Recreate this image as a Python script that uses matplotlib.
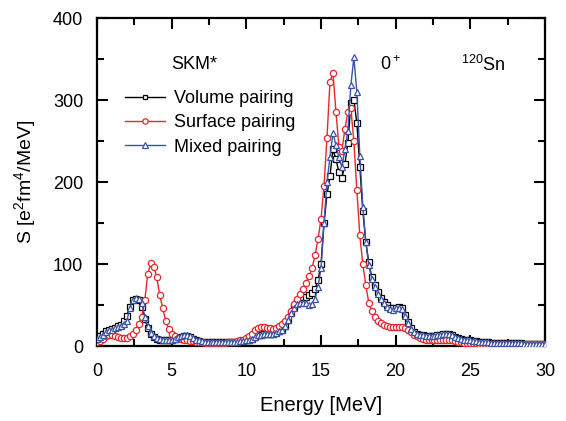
import numpy as np
import matplotlib
matplotlib.use("Agg")
import matplotlib.pyplot as plt

plt.rcParams['font.family'] = ['Liberation Sans', 'DejaVu Sans']
plt.rcParams['mathtext.fontset'] = 'custom'
plt.rcParams['mathtext.rm'] = 'Liberation Sans'

# Energy grid (MeV), 0.2 MeV step
energy = np.round(np.linspace(0, 30, 151), 1)

surface = [5, 6, 9, 12, 14, 14, 12, 11, 10, 10,
           10, 12, 15, 20, 27, 36, 56, 88, 101, 97,
           84, 62, 46, 31, 21, 15, 12, 10, 9, 8,
           7, 6, 6, 5, 5, 5, 4, 4, 4, 4,
           4, 4, 4, 4, 5, 5, 5, 6, 7, 8,
           10, 12, 15, 19, 22, 23, 23, 22, 22, 21,
           22, 24, 27, 30, 36, 43, 51, 57, 63, 70,
           77, 85, 95, 111, 130, 155, 195, 254, 322, 333,
           286, 243, 238, 265, 285, 290, 250, 190, 135, 100,
           74, 53, 43, 36, 31, 28, 26, 24, 23, 23,
           23, 23, 23, 22, 20, 17, 14, 12, 10, 9,
           8, 7, 7, 7, 7, 7, 8, 8, 8, 7,
           6, 5, 5, 4, 4, 4, 4, 4, 3, 3,
           3, 3, 3, 3, 3, 3, 3, 3, 3, 3,
           3, 3, 3, 3, 3, 3, 3, 3, 3, 3,
           3]

mixed = [9, 11, 14, 17, 19, 20, 22, 23, 24, 27,
         31, 47, 56, 59, 58, 53, 36, 24, 16, 12,
         10, 9, 8, 7, 7, 8, 9, 11, 12, 13,
         13, 12, 10, 8, 7, 6, 5, 5, 5, 5,
         5, 5, 5, 5, 5, 5, 5, 5, 6, 6,
         7, 8, 9, 11, 13, 14, 15, 15, 15, 15,
         16, 18, 20, 25, 32, 40, 47, 51, 53, 53,
         52, 50, 51, 58, 72, 95, 150, 200, 230, 260,
         245, 230, 218, 240, 262, 318, 352, 310, 232, 170,
         127, 99, 82, 72, 64, 58, 53, 48, 45, 44,
         46, 47, 45, 37, 28, 21, 17, 15, 14, 13,
         12, 12, 12, 12, 13, 14, 15, 15, 15, 13,
         11, 10, 9, 8, 8, 7, 6, 6, 5, 5,
         5, 5, 4, 4, 4, 4, 4, 4, 4, 4,
         4, 4, 4, 3, 3, 3, 3, 3, 3, 3,
         3]

volume = [9, 12, 15, 18, 20, 21, 22, 24, 26, 30,
          37, 48, 56, 58, 56, 48, 33, 22, 15, 11,
          9, 8, 7, 7, 7, 8, 9, 10, 11, 12,
          12, 11, 9, 8, 6, 5, 5, 5, 5, 5,
          5, 5, 5, 5, 5, 5, 5, 5, 6, 6,
          7, 8, 9, 11, 13, 14, 15, 15, 15, 15,
          16, 18, 20, 25, 32, 40, 48, 54, 58, 60,
          60, 62, 65, 70, 80, 100, 150, 185, 207, 240,
          228, 212, 205, 222, 248, 296, 300, 272, 218, 165,
          127, 102, 84, 74, 66, 59, 54, 50, 47, 46,
          47, 48, 46, 38, 29, 22, 17, 15, 14, 13,
          12, 12, 12, 12, 13, 14, 15, 15, 15, 13,
          11, 10, 9, 8, 8, 7, 6, 6, 5, 5,
          5, 5, 4, 4, 4, 4, 4, 4, 4, 4,
          4, 4, 4, 3, 3, 3, 3, 3, 3, 3,
          3]

labels = ['Volume pairing', 'Surface pairing', 'Mixed pairing']

red = '#e8262b'
blue = '#3a53a4'

fig = plt.figure(figsize=(5.66, 4.21), dpi=100)
ax = fig.add_axes([0.1714, 0.178, 0.7915, 0.779])

ax.plot(energy, volume, '-s', color='black', lw=1.0, ms=4, mfc='white', mew=0.9, label=labels[0], zorder=3)
ax.plot(energy, surface, '-o', color=red, lw=1.0, ms=4.5, mfc='white', mew=0.9, label=labels[1], zorder=4)
ax.plot(energy, mixed, '-^', color=blue, lw=1.0, ms=4.5, mfc='white', mew=0.9, label=labels[2], zorder=5)

ax.set_xlim(0, 30)
ax.set_ylim(0, 400)
ax.set_xticks([0, 5, 10, 15, 20, 25, 30])
ax.set_xticks([2.5, 7.5, 12.5, 17.5, 22.5, 27.5], minor=True)
ax.set_yticks([0, 100, 200, 300, 400])
ax.set_yticks([50, 150, 250, 350], minor=True)
ax.tick_params(which='both', direction='in', top=True, right=True, width=1.5, labelsize=13)
ax.tick_params(which='major', length=8)
ax.tick_params(which='minor', length=5)
ax.tick_params(axis='x', which='major', pad=12)
ax.tick_params(axis='y', which='major', pad=10)
for s in ax.spines.values():
    s.set_linewidth(1.6)

ax.set_xlabel('Energy [MeV]', fontsize=14.5, labelpad=12)
ax.set_ylabel('S [e$\\mathregular{^2}$fm$\\mathregular{^4}$/MeV]', fontsize=14, labelpad=11)

ax.text(5.0, 343, 'SKM*', fontsize=13, va='center', ha='left')
ax.text(18.95, 343, '0$\\mathregular{^+}$', fontsize=13, va='center', ha='left')
ax.text(24.4, 343, '$\\mathregular{^{120}}$Sn', fontsize=13, va='center', ha='left')

ax.legend(loc='upper left', bbox_to_anchor=(0.062, 0.78), frameon=False, fontsize=13,
          borderpad=0, borderaxespad=0, handlelength=2.2, handletextpad=0.5,
          labelspacing=0.4, markerscale=0.85)

fig.savefig('out.png', dpi=100)
